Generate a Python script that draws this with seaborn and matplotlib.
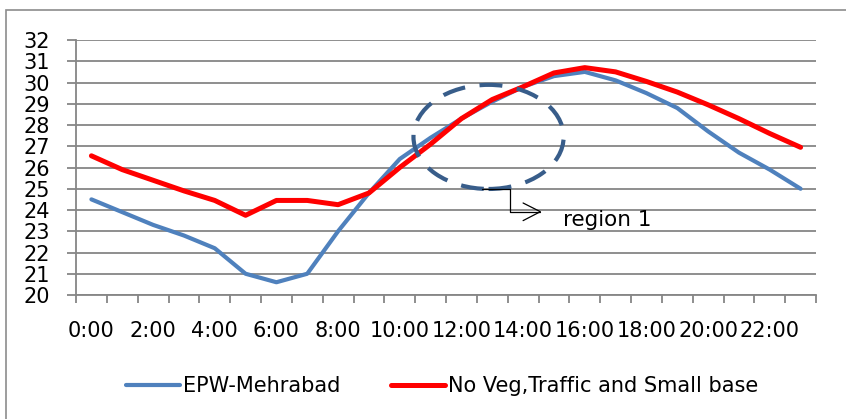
import matplotlib
matplotlib.use('Agg')
import matplotlib.pyplot as plt
from matplotlib.patches import Ellipse, Rectangle
import pandas as pd
import seaborn as sns

# hourly values
hours = [f"{h}:00" for h in range(24)]
epw_mehrabad = [24.5, 23.9, 23.3, 22.8, 22.2, 21.0, 20.6, 21.0, 23.0, 24.8, 26.4, 27.4,
                28.3, 29.1, 29.8, 30.3, 30.5, 30.1, 29.5, 28.8, 27.7, 26.7, 25.9, 25.0]
no_veg = [26.55, 25.9, 25.4, 24.9, 24.45, 23.75, 24.45, 24.45, 24.25, 24.8, 26.0, 27.1,
          28.3, 29.2, 29.8, 30.45, 30.7, 30.5, 30.05, 29.55, 28.95, 28.3, 27.6, 26.95]
label_hours = hours[::2]

df = pd.DataFrame({"pos": range(len(hours)), "EPW-Mehrabad": epw_mehrabad,
                   "No Veg,Traffic and Small base": no_veg})

sns.set_style("white")
plt.rcParams['font.family'] = ['DejaVu Sans']
plt.rcParams['text.color'] = 'black'
plt.rcParams['xtick.labelcolor'] = 'black'
plt.rcParams['ytick.labelcolor'] = 'black'

fig = plt.figure(figsize=(8.46, 4.19), dpi=100)
W, H = 846, 419
ax = fig.add_axes([76 / W, 1 - 295 / H, 740 / W, 255 / H])

# outer chart border
fig.patches.append(Rectangle((6 / W, -0.05), 1.1, 1 - 10 / H + 0.05, transform=fig.transFigure,
                             fill=False, edgecolor='#8c8c8c', linewidth=1.2))

sns.lineplot(data=df, x="pos", y="EPW-Mehrabad", ax=ax, color='#4F81BD', linewidth=3.0,
             label="EPW-Mehrabad", legend=False)
sns.lineplot(data=df, x="pos", y="No Veg,Traffic and Small base", ax=ax, color='#FF0000',
             linewidth=3.6, label="No Veg,Traffic and Small base", legend=False)

ax.set_xlim(-0.5, len(hours) - 0.5)
ax.set_ylim(20, 32)
ax.set_yticks(range(20, 33))
ax.set_xticks([i - 0.5 for i in range(len(hours) + 1)])
ax.set_xticklabels([])
ax.set_xticks(range(0, len(hours), 2), minor=True)
ax.set_xticklabels(label_hours, minor=True)
ax.set_xlabel("")
ax.set_ylabel("")

grid_c = '#868686'
ax.yaxis.grid(True, color=grid_c, linewidth=1.3)
ax.set_axisbelow(True)
for s in ['top', 'right']:
    ax.spines[s].set_visible(False)
for s in ['left', 'bottom']:
    ax.spines[s].set_color(grid_c)
    ax.spines[s].set_linewidth(1.3)
ax.tick_params(axis='y', which='major', length=6.5, width=1.3, color=grid_c, direction='out',
               labelsize=15, pad=12, left=True)
ax.tick_params(axis='x', which='major', length=6, width=1.3, color=grid_c, direction='out',
               bottom=True)
ax.tick_params(axis='x', which='minor', length=0, labelsize=15, pad=19, bottom=True)

# dashed ellipse marking region 1
ax.add_patch(Ellipse((12.88, 27.44), 4.87, 4.9, fill=False, edgecolor='#385D8A',
                     linewidth=3.0, linestyle=(0, (5.5, 3.5)), zorder=5))
# callout
ax.plot([12.68, 13.56, 13.56, 14.56], [24.99, 24.99, 23.92, 23.92], color='black',
        linewidth=0.9, zorder=5)
ax.plot([14.0, 14.56, 14.0], [24.33, 23.92, 23.5], color='black', linewidth=0.9, zorder=5)
ax.text(15.29, 23.55, "region 1", fontsize=15.5, ha='left', va='center')

fig.legend(loc='center', bbox_to_anchor=(442 / W, 1 - 386 / H), ncol=2, frameon=False,
           fontsize=15, handlelength=2.6, handletextpad=0.15, columnspacing=2.4)

fig.savefig("out.png", dpi=100)
